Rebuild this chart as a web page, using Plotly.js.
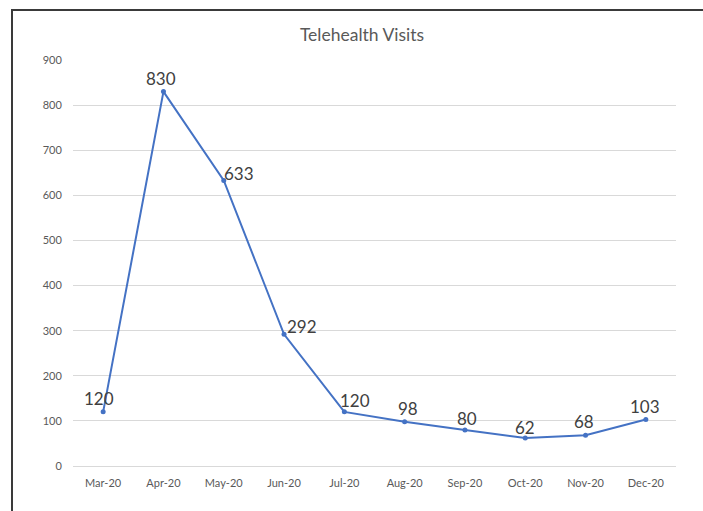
<!DOCTYPE html>
<html>
<head>
<meta charset="utf-8">
<script src="https://cdn.plot.ly/plotly-3.0.1.min.js"></script>
<style>
  html, body { margin: 0; padding: 0; background: #fff; }
  #wrap { position: relative; width: 703px; height: 511px; }
  #chart { width: 703px; height: 511px; }
  #frame { position: absolute; left: 11px; top: 9px; right: 0; bottom: 0;
           border-left: 2px solid #3a3a3a; border-top: 2px solid #3a3a3a; pointer-events: none; }
</style>
</head>
<body>
<div id="wrap">
  <div id="chart"></div>
  <div id="frame"></div>
</div>
<script>
const months = ["Mar-20","Apr-20","May-20","Jun-20","Jul-20","Aug-20","Sep-20","Oct-20","Nov-20","Dec-20"];
const visits = [120, 830, 633, 292, 120, 98, 80, 62, 68, 103];
const yTicks = [0,100,200,300,400,500,600,700,800,900];

// label offsets (pixels) relative to each point — styling only
const labelDx = [-4, -2, 15, 18, 11, 3, 2, 0, -2, -1];
const labelDy = [13, 13, 7, 8, 11, 13, 11, 11, 14, 13];

const font = "Lato, 'Open Sans', sans-serif";

const trace = {
  x: months,
  y: visits,
  type: "scatter",
  mode: "lines+markers",
  line: { color: "#4472C4", width: 2 },
  marker: { color: "#4472C4", size: 5 },
  cliponaxis: false,
  hoverinfo: "x+y"
};

const annotations = visits.map((v, i) => ({
  x: months[i], y: v, xref: "x", yref: "y",
  text: String(v), showarrow: false,
  xanchor: "center", yanchor: "middle",
  xshift: labelDx[i], yshift: labelDy[i],
  font: { family: font, size: 17, color: "#404040" }
}));

const layout = {
  width: 703, height: 511,
  margin: { l: 73, r: 27, t: 60, b: 45 },
  paper_bgcolor: "#ffffff",
  plot_bgcolor: "#ffffff",
  showlegend: false,
  annotations: annotations,
  title: {
    text: "Telehealth Visits",
    font: { family: font, size: 17.5, color: "#595959" },
    x: 0.515, xanchor: "center",
    y: 1 - 35/511, yanchor: "middle", yref: "container"
  },
  xaxis: {
    type: "category",
    range: [-0.5, 9.5],
    showgrid: false,
    zeroline: false,
    showline: false,
    ticks: "outside", ticklen: 7, tickcolor: "rgba(0,0,0,0)",
    tickfont: { family: font, size: 11, color: "#595959" },
    fixedrange: true
  },
  yaxis: {
    range: [0, 900],
    tickvals: yTicks,
    showgrid: true,
    gridcolor: "#d9d9d9",
    gridwidth: 1,
    zeroline: true,
    zerolinecolor: "#d9d9d9",
    zerolinewidth: 1,
    showline: false,
    ticks: "outside", ticklen: 8, tickcolor: "rgba(0,0,0,0)",
    tickfont: { family: font, size: 11, color: "#595959" },
    fixedrange: true
  }
};

Plotly.newPlot("chart", [trace], layout, { displayModeBar: false, staticPlot: true });
</script>
</body>
</html>
